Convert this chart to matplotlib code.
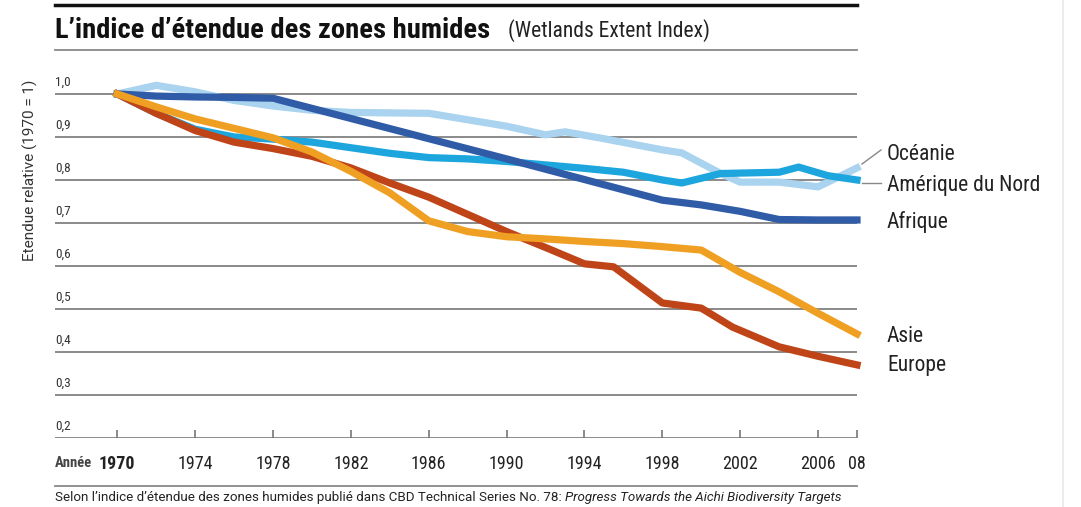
import matplotlib
matplotlib.use('Agg')
import matplotlib.pyplot as plt
from matplotlib import font_manager
from matplotlib.transforms import blended_transform_factory

# pick a narrow font if one is there
names = {f.name for f in font_manager.fontManager.ttflist}
narrow = 'DejaVu Sans'
for cand in ['Roboto Condensed', 'Liberation Sans Narrow', 'Roboto', 'Liberation Sans']:
    if cand in names:
        narrow = cand
        break
wide = 'Roboto' if 'Roboto' in names else 'DejaVu Sans'
plt.rcParams['font.family'] = [narrow, 'DejaVu Sans']

# data
afrique_years = [1970, 1972, 1974, 1976, 1978, 1982, 1986, 1990, 1994, 1998, 2000, 2002, 2004, 2006, 2008]
afrique = [1.0, 0.995, 0.993, 0.992, 0.99, 0.943, 0.896, 0.849, 0.801, 0.753, 0.742, 0.727, 0.708, 0.707, 0.707]

oceanie_years = [1970, 1972, 1974, 1976, 1978, 1980, 1982, 1984, 1986, 1988, 1990, 1992, 1993, 1995, 1998, 1999, 2001, 2002, 2004, 2006, 2008]
oceanie = [1.0, 1.02, 1.005, 0.985, 0.972, 0.962, 0.957, 0.956, 0.955, 0.94, 0.925, 0.905, 0.912, 0.896, 0.87, 0.863, 0.815, 0.795, 0.795, 0.784, 0.828]

amerique_years = [1970, 1972, 1974, 1976, 1978, 1980, 1982, 1984, 1986, 1988, 1990, 1992, 1994, 1996, 1998, 1999, 2001, 2004, 2005, 2006.5, 2008]
amerique = [1.0, 0.955, 0.918, 0.9, 0.895, 0.888, 0.875, 0.862, 0.852, 0.849, 0.843, 0.835, 0.827, 0.818, 0.8, 0.793, 0.815, 0.818, 0.83, 0.81, 0.80]

europe_years = [1970, 1972, 1974, 1976, 1978, 1980, 1982, 1984, 1986, 1988, 1990, 1992, 1994, 1995.5, 1998, 2000, 2001.6, 2004, 2006, 2008]
europe = [1.0, 0.955, 0.915, 0.888, 0.873, 0.855, 0.828, 0.793, 0.76, 0.72, 0.68, 0.643, 0.605, 0.598, 0.514, 0.502, 0.458, 0.412, 0.39, 0.37]

asie_years = [1970, 1972, 1974, 1976, 1978, 1980, 1982, 1984, 1986, 1988, 1990, 1992, 1994, 1996, 1998, 2000, 2002, 2004, 2006, 2008]
asie = [1.0, 0.97, 0.942, 0.92, 0.898, 0.865, 0.82, 0.77, 0.705, 0.68, 0.668, 0.663, 0.657, 0.652, 0.645, 0.637, 0.585, 0.54, 0.49, 0.442]

year_ticks = [1970, 1974, 1978, 1982, 1986, 1990, 1994, 1998, 2002, 2006, 2008]
year_labels = ['1970', '1974', '1978', '1982', '1986', '1990', '1994', '1998', '2002', '2006', '08']
y_ticks = [0.2, 0.3, 0.4, 0.5, 0.6, 0.7, 0.8, 0.9, 1.0]
y_labels = ['0,2', '0,3', '0,4', '0,5', '0,6', '0,7', '0,8', '0,9', '1,0']

fig = plt.figure(figsize=(10.81, 5.07), dpi=100)
ax = fig.add_axes([55 / 1081, 1 - 438 / 507, 802 / 1081, 0.721])
ax.set_xlim(1966.8, 2008)
ax.set_ylim(0.2, 1.05)

# grid lines
for v in y_ticks:
    ax.axhline(v, color='#8a8a8a', lw=1.4, zorder=1)

lw = 5.2
ax.plot(oceanie_years, oceanie, color='#a9d3ef', lw=lw, solid_joinstyle='round', clip_on=False, zorder=2)
ax.plot(amerique_years, amerique, color='#1da6dd', lw=lw, solid_joinstyle='round', clip_on=False, zorder=3)
ax.plot(afrique_years, afrique, color='#2f5ba7', lw=lw, solid_joinstyle='round', clip_on=False, zorder=4)
ax.plot(europe_years, europe, color='#bf4418', lw=lw, solid_joinstyle='round', clip_on=False, zorder=5)
ax.plot(asie_years, asie, color='#efa023', lw=lw, solid_joinstyle='round', clip_on=False, zorder=6)

for s in ['top', 'right', 'left', 'bottom']:
    ax.spines[s].set_visible(False)
ax.set_yticks([])
ax.set_xticks(year_ticks)
ax.set_xticklabels(year_labels, fontsize=13, color='#222222')
ax.get_xticklabels()[0].set_fontweight('bold')
ax.tick_params(axis='x', direction='in', length=6, width=1.2, color='#777777', pad=12)

# y labels sit above the grid lines
tr = blended_transform_factory(ax.transAxes, ax.transData)
for v, lab in zip(y_ticks, y_labels):
    ax.text(0.0, v + 0.012, lab, transform=tr, ha='left', va='bottom', fontsize=9.5, color='#333333')

fig.text(55 / 1081, 1 - 463 / 507, 'Année', ha='left', va='center', fontsize=10.5, fontweight='bold', color='#444444')
fig.text(30 / 1081, 1 - 170 / 507, 'Etendue relative (1970 = 1)', rotation=90, ha='center', va='center',
         fontsize=11, family=[wide, 'DejaVu Sans'], color='#333333')

# title and rules
fig.add_artist(plt.Line2D([55 / 1081, 857 / 1081], [1 - 5 / 507] * 2, color='#111111', lw=2.5))
fig.add_artist(plt.Line2D([55 / 1081, 857 / 1081], [1 - 50 / 507] * 2, color='#888888', lw=1.3))
fig.add_artist(plt.Line2D([55 / 1081, 857 / 1081], [1 - 486 / 507] * 2, color='#888888', lw=1.3))
fig.text(55 / 1081, 1 - 30 / 507, 'L\u2019indice d\u2019étendue des zones humides', ha='left', va='center',
         fontsize=20.5, fontweight='bold', color='#111111')
fig.text(508 / 1081, 1 - 31 / 507, '(Wetlands Extent Index)', ha='left', va='center', fontsize=15.5, color='#222222')

src = fig.text(55 / 1081, 1 - 497 / 507, 'Selon l\u2019indice d\u2019étendue des zones humides publié dans CBD Technical Series No. 78: ',
               ha='left', va='center', fontsize=9.6, family=[wide, 'DejaVu Sans'], color='#222222')
fig.canvas.draw()
bb = src.get_window_extent()
fig.text(bb.x1 / 1081, 1 - 497 / 507, 'Progress Towards the Aichi Biodiversity Targets', ha='left', va='center',
         fontsize=9.6, style='italic', family=[wide, 'DejaVu Sans'], color='#222222')

# series labels
labels = [('Océanie', 155), ('Amérique du Nord', 186), ('Afrique', 222), ('Asie', 337), ('Europe', 365)]
for txt, py in labels:
    fig.text(887 / 1081, 1 - py / 507, txt, ha='left', va='center', fontsize=15.5, color='#222222')
fig.add_artist(plt.Line2D([862 / 1081, 881 / 1081], [1 - 164 / 507, 1 - 150 / 507], color='#888888', lw=1))
fig.add_artist(plt.Line2D([862 / 1081, 881 / 1081], [1 - 183 / 507] * 2, color='#888888', lw=1))

# faint edge on the right
fig.add_artist(plt.Line2D([1063 / 1081] * 2, [0, 1], color='#ececec', lw=1.5))

fig.savefig('out.png', dpi=100)
plt.close(fig)
